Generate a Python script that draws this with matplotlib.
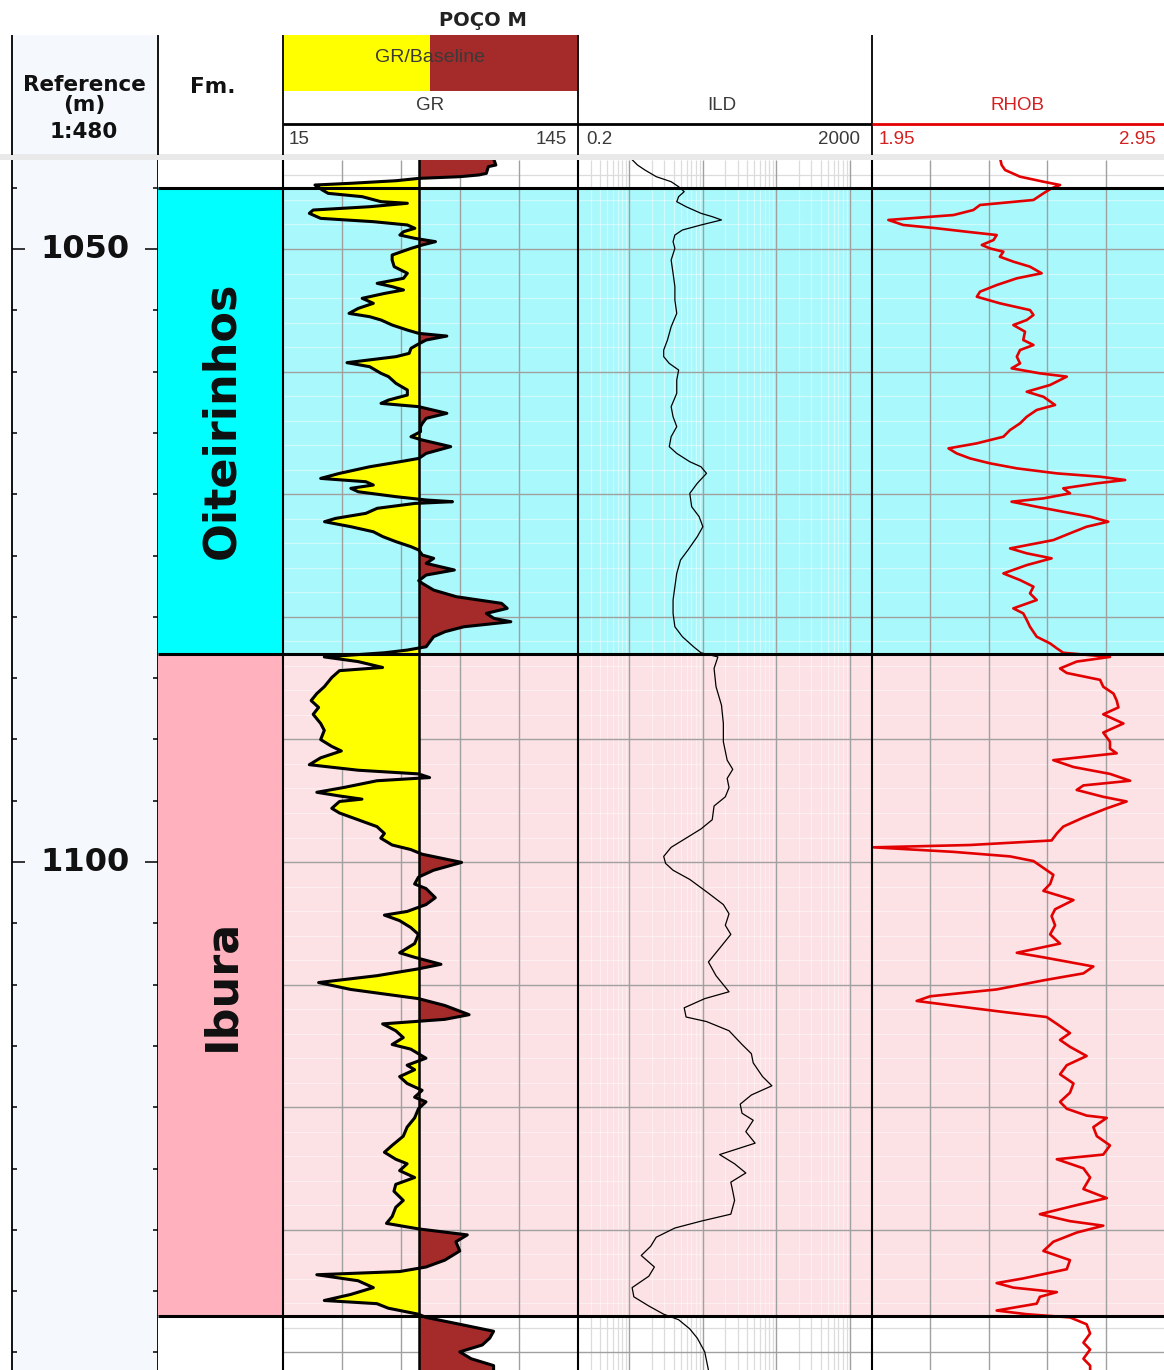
import matplotlib
matplotlib.use("Agg")
import matplotlib.pyplot as plt
import numpy as np
from matplotlib.patches import Rectangle
from matplotlib.ticker import MultipleLocator, FixedLocator

# ---------------- data ----------------
depth_top, depth_bottom = 1042.74, 1141.43
depth_major = [1050, 1100]
formations = ["Oiteirinhos", "Ibura"]
fm_tops = [1045.0, 1083.0]
fm_bases = [1083.0, 1137.0]

gr_range = (15, 145)
gr_baseline = 75
gr_grid = [41, 67, 93, 119]
ild_range = (0.2, 2000)
rhob_range = (1.95, 2.95)
rhob_grid = [2.15, 2.35, 2.55, 2.75]

gr_depth = [1042.74, 1043.15, 1043.28, 1043.83, 1043.96, 1044.10, 1044.24, 1044.43, 1044.64, 1044.78,
            1045.19, 1045.46, 1045.73, 1046.14, 1046.27, 1046.55, 1046.82, 1047.09, 1047.50, 1047.77,
            1048.04, 1048.31, 1048.59, 1048.86, 1049.13, 1049.40, 1049.67, 1049.95, 1050.49, 1050.90,
            1051.44, 1051.98, 1052.39, 1052.80, 1053.07, 1053.34, 1053.62, 1054.02, 1054.43, 1054.84,
            1055.25, 1055.52, 1055.79, 1056.20, 1056.61, 1056.88, 1057.10, 1057.42, 1057.83, 1058.10,
            1058.51, 1058.78, 1059.27, 1059.60, 1060.14, 1060.41, 1060.96, 1061.50, 1061.91, 1062.32,
            1062.59, 1062.86, 1063.40, 1063.81, 1064.22, 1064.49, 1064.90, 1065.31, 1065.58, 1066.12,
            1066.67, 1067.08, 1067.35, 1067.76, 1068.30, 1068.71, 1068.98, 1069.25, 1069.52, 1069.80,
            1070.20, 1070.47, 1070.61, 1070.75, 1071.15, 1071.56, 1071.97, 1072.24, 1072.65, 1073.06,
            1073.46, 1073.87, 1074.28, 1074.55, 1074.96, 1075.23, 1075.64, 1076.18, 1076.59, 1077.05,
            1077.27, 1077.82, 1078.36, 1078.90, 1079.31, 1079.72, 1080.13, 1080.40, 1080.81, 1081.21,
            1081.62, 1082.03, 1082.44, 1082.71, 1082.93,
            1083.27, 1083.65, 1084.13, 1084.39, 1084.95, 1085.70, 1086.26, 1086.83, 1087.39, 1087.95,
            1088.70, 1089.26, 1090.01, 1090.57, 1090.94, 1091.50, 1092.06, 1092.51, 1092.81, 1093.11,
            1093.37, 1093.93, 1094.31, 1094.61, 1094.87, 1095.06, 1095.62, 1096.00, 1096.55, 1097.11,
            1097.67, 1098.05, 1098.61, 1098.98, 1099.36, 1100.03, 1100.67, 1101.23, 1101.79, 1102.16,
            1102.91, 1103.47, 1104.03, 1104.33, 1104.78, 1105.34, 1105.90, 1106.65, 1107.40, 1107.77,
            1108.34, 1108.71, 1109.27, 1109.83, 1110.39, 1111.14, 1111.70, 1112.45, 1112.83, 1113.20,
            1113.76, 1114.32, 1114.88, 1115.26, 1116.00, 1116.57, 1116.94, 1117.50, 1118.06, 1118.62,
            1119.18, 1119.56, 1120.12, 1120.87, 1121.62, 1122.36, 1123.11, 1123.67, 1124.24, 1124.61,
            1125.17, 1125.73, 1126.29, 1126.85, 1127.60, 1128.16, 1128.91, 1129.47, 1129.92, 1130.41,
            1130.97, 1131.72, 1132.47, 1133.03, 1133.40, 1133.66, 1134.15, 1134.71, 1135.27, 1135.76,
            1136.02, 1136.39, 1136.88, 1137.14, 1137.70, 1138.27, 1138.83, 1139.39, 1139.95, 1140.51,
            1141.07, 1141.43]
gr_value = [108.0, 108.8, 105.5, 104.6, 101.3, 93.0, 74.8, 64.8, 44.9, 29.1,
            32.4, 34.9, 49.9, 58.2, 69.8, 53.2, 28.3, 26.6, 31.6, 54.8,
            69.8, 73.1, 68.1, 66.5, 73.1, 82.2, 76.4, 71.4, 63.1, 63.1,
            64.0, 69.8, 68.1, 56.5, 63.1, 68.1, 59.8, 49.9, 54.8, 48.2,
            44.1, 53.2, 58.2, 63.1, 69.8, 74.8, 87.2, 78.1, 73.9, 71.4,
            70.6, 64.8, 43.2, 53.2, 58.2, 61.5, 64.8, 69.8, 69.8, 61.5,
            58.2, 74.8, 87.2, 78.1, 76.4, 75.6, 75.6, 71.4, 76.4, 88.9,
            78.1, 74.8, 66.5, 53.2, 39.9, 31.6, 51.5, 54.8, 44.9, 48.2,
            64.8, 78.1, 89.7, 73.1, 56.5, 51.5, 38.2, 33.3, 44.9, 54.8,
            59.0, 64.8, 71.4, 74.8, 76.4, 81.4, 78.1, 90.5, 78.1, 74.8,
            76.4, 81.4, 91.4, 111.3, 113.8, 104.6, 108.0, 115.4, 94.7, 86.4,
            81.4, 79.7, 78.1, 69.8, 59.8,
            33.2, 48.1, 58.9, 39.9, 36.5, 33.2, 29.9, 27.4, 30.7, 28.3,
            31.6, 33.2, 31.6, 36.5, 40.7, 31.6, 26.6, 48.1, 74.7, 79.6,
            56.4, 41.5, 29.9, 39.9, 49.8, 39.9, 36.5, 39.9, 48.1, 56.4,
            59.7, 58.1, 63.1, 71.3, 76.3, 93.7, 81.3, 74.7, 73.0, 78.0,
            82.1, 78.0, 69.7, 59.7, 66.4, 71.3, 74.7, 73.0, 66.4, 73.0,
            84.6, 74.7, 56.4, 30.7, 44.8, 74.7, 86.3, 97.0, 86.3, 58.9,
            64.7, 68.0, 63.1, 71.3, 78.0, 69.7, 73.0, 66.4, 69.7, 76.3,
            73.0, 78.0, 74.7, 73.0, 69.7, 68.0, 63.1, 59.7, 64.7, 69.7,
            66.4, 73.0, 64.7, 63.9, 68.0, 64.7, 63.1, 60.6, 74.7, 96.2,
            91.2, 92.9, 86.3, 78.0, 66.4, 29.9, 48.1, 54.8, 44.8, 33.2,
            56.4, 61.4, 74.7, 78.0, 92.9, 107.8, 106.1, 102.8, 92.9, 97.9,
            107.8, 107.8]

ild_depth = [1042.74, 1043.15, 1043.56, 1044.10, 1044.51, 1044.92, 1045.32, 1045.73, 1046.14, 1046.55,
             1047.09, 1047.36, 1047.63, 1048.04, 1048.45, 1048.86, 1049.40, 1049.95, 1050.90, 1051.98,
             1053.07, 1054.16, 1055.25, 1056.34, 1057.42, 1058.24, 1058.78, 1059.33, 1059.87, 1060.69,
             1061.77, 1062.86, 1063.68, 1064.49, 1065.31, 1066.12, 1066.67, 1067.35, 1067.76, 1068.30,
             1069.11, 1069.93, 1071.02, 1071.83, 1072.65, 1073.46, 1074.55, 1075.37, 1076.46, 1077.54,
             1078.63, 1079.72, 1080.81, 1081.62, 1082.44, 1082.93,
             1083.27, 1084.21, 1085.70, 1087.20, 1088.70, 1090.19, 1091.69, 1092.44, 1093.18, 1093.93,
             1094.68, 1095.43, 1096.55, 1097.30, 1098.05, 1098.80, 1099.54, 1100.11, 1100.67, 1101.42,
             1102.54, 1103.47, 1104.22, 1105.16, 1105.90, 1107.03, 1108.15, 1109.27, 1110.58, 1111.14,
             1111.89, 1112.64, 1113.01, 1113.76, 1114.88, 1115.63, 1116.38, 1117.50, 1118.25, 1119.00,
             1119.75, 1120.49, 1121.06, 1121.99, 1122.93, 1123.86, 1124.61, 1125.36, 1126.11, 1126.85,
             1127.60, 1128.72, 1129.29, 1129.85, 1130.60, 1131.34, 1132.09, 1133.03, 1133.78, 1134.71,
             1135.46, 1136.21, 1136.88, 1137.33, 1138.08, 1138.83, 1139.95, 1141.43]
ild_value = [1.1, 1.29, 1.63, 2.32, 3.70, 4.68, 5.57, 4.68, 4.41, 5.91,
             9.43, 13.4, 17.9, 9.43, 5.26, 4.16, 3.93, 4.16, 3.70, 3.93,
             4.16, 4.16, 4.41, 3.70, 3.30, 2.93, 2.93, 3.49, 4.68, 4.41,
             4.41, 3.70, 3.93, 4.41, 3.70, 3.49, 4.41, 6.64, 9.43, 11.2,
             8.39, 6.64, 7.04, 8.90, 10.0, 8.39, 6.27, 4.96, 4.41, 4.16,
             3.93, 3.93, 4.16, 5.26, 7.46, 9.43,
             16.0, 14.2, 15.1, 17.9, 19.0, 19.0, 21.4, 25.5, 21.4, 22.7,
             20.2, 14.2, 13.4, 9.43, 5.91, 3.70, 2.93, 3.11, 3.93, 6.64,
             11.9, 19.0, 22.7, 20.2, 24.0, 16.9, 11.9, 15.1, 22.7, 10.6,
             5.57, 5.91, 11.2, 22.7, 34.1, 45.7, 48.4, 64.9, 86.9, 45.7,
             32.2, 34.1, 48.4, 38.4, 51.4, 16.9, 27.0, 38.4, 24.0, 25.5,
             27.0, 24.0, 9.43, 4.16, 2.32, 1.95, 1.45, 2.19, 1.84, 1.09,
             1.15, 1.84, 2.93, 4.68, 6.64, 8.39, 10.6, 11.9]

rhob_depth = [1042.74, 1043.15, 1043.56, 1044.10, 1044.51, 1044.78, 1045.05, 1045.46, 1046.00, 1046.41,
              1046.82, 1047.23, 1047.50, 1047.63, 1048.04, 1048.31, 1048.59, 1048.86, 1049.27, 1049.67,
              1049.95, 1050.22, 1050.63, 1051.03, 1051.44, 1051.98, 1052.39, 1052.94, 1053.48, 1053.89,
              1054.43, 1054.98, 1055.38, 1055.79, 1056.20, 1056.74, 1057.42, 1057.83, 1058.24, 1058.78,
              1059.33, 1059.73, 1060.14, 1060.41, 1061.09, 1061.64, 1062.05, 1062.72, 1063.13, 1063.68,
              1064.22, 1064.76, 1065.31, 1065.85, 1066.26, 1066.67, 1067.08, 1067.48, 1067.89, 1068.30,
              1068.57, 1068.84, 1069.11, 1069.52, 1069.93, 1070.34, 1070.61, 1071.02, 1071.43, 1071.83,
              1072.24, 1072.65, 1073.19, 1073.74, 1074.42, 1074.82, 1075.23, 1075.78, 1076.46, 1077.00,
              1077.54, 1078.09, 1078.63, 1079.31, 1079.72, 1080.26, 1080.81, 1081.62, 1082.17, 1082.57,
              1082.93,
              1083.27, 1083.65, 1084.21, 1084.58, 1085.14, 1085.70, 1086.26, 1086.83, 1087.39, 1087.95,
              1088.70, 1089.44, 1090.19, 1090.75, 1091.13, 1091.69, 1092.25, 1092.81, 1093.37, 1093.75,
              1094.12, 1094.68, 1095.06, 1095.62, 1096.37, 1097.11, 1097.67, 1098.24, 1098.61, 1098.80,
              1099.17, 1099.54, 1099.92, 1100.48, 1101.04, 1101.79, 1102.35, 1103.10, 1103.85, 1104.41,
              1105.16, 1105.90, 1106.65, 1107.40, 1107.77, 1108.52, 1109.08, 1109.65, 1110.39, 1110.95,
              1111.33, 1111.89, 1112.26, 1112.64, 1113.20, 1113.95, 1114.51, 1115.07, 1115.82, 1116.57,
              1117.31, 1118.06, 1118.81, 1119.56, 1120.12, 1120.68, 1120.87, 1121.62, 1122.36, 1123.11,
              1123.86, 1124.24, 1124.98, 1125.73, 1126.67, 1127.41, 1127.98, 1128.72, 1129.29, 1129.66,
              1130.22, 1130.97, 1131.72, 1132.47, 1133.21, 1133.96, 1134.34, 1134.71, 1135.08, 1135.46,
              1136.02, 1136.58, 1136.88, 1137.14, 1137.70, 1138.45, 1139.20, 1139.76, 1140.51, 1141.07,
              1141.43]
rhob_value = [2.390, 2.394, 2.406, 2.457, 2.537, 2.594, 2.565, 2.537, 2.503, 2.320,
              2.297, 2.229, 2.080, 2.006, 2.057, 2.172, 2.274, 2.377, 2.366, 2.326,
              2.354, 2.400, 2.388, 2.434, 2.491, 2.531, 2.446, 2.377, 2.320, 2.309,
              2.388, 2.491, 2.503, 2.480, 2.434, 2.474, 2.468, 2.503, 2.457, 2.446,
              2.457, 2.428, 2.525, 2.617, 2.560, 2.480, 2.537, 2.577, 2.514, 2.480,
              2.457, 2.423, 2.400, 2.309, 2.212, 2.240, 2.286, 2.354, 2.446, 2.583,
              2.731, 2.817, 2.720, 2.605, 2.628, 2.537, 2.428, 2.514, 2.605, 2.697,
              2.759, 2.685, 2.628, 2.571, 2.423, 2.480, 2.565, 2.480, 2.400, 2.457,
              2.503, 2.491, 2.514, 2.434, 2.468, 2.480, 2.491, 2.514, 2.560, 2.583,
              2.605,
              2.765, 2.651, 2.594, 2.617, 2.731, 2.742, 2.777, 2.788, 2.794, 2.742,
              2.811, 2.742, 2.765, 2.765, 2.788, 2.571, 2.640, 2.765, 2.834, 2.674,
              2.651, 2.742, 2.822, 2.754, 2.674, 2.605, 2.583, 2.565, 2.286, 1.955,
              2.229, 2.423, 2.503, 2.537, 2.571, 2.560, 2.537, 2.640, 2.577, 2.565,
              2.577, 2.560, 2.594, 2.446, 2.537, 2.708, 2.674, 2.537, 2.377, 2.149,
              2.103, 2.286, 2.411, 2.548, 2.583, 2.628, 2.594, 2.628, 2.685, 2.617,
              2.594, 2.640, 2.628, 2.594, 2.617, 2.685, 2.754, 2.708, 2.720, 2.765,
              2.742, 2.583, 2.674, 2.697, 2.674, 2.754, 2.651, 2.525, 2.628, 2.742,
              2.651, 2.571, 2.537, 2.628, 2.617, 2.468, 2.377, 2.434, 2.583, 2.525,
              2.514, 2.377, 2.480, 2.628, 2.685, 2.697, 2.674, 2.697, 2.674, 2.697,
              2.697]

# ---------------- style ----------------
plt.rcParams['font.family'] = ['DejaVu Sans']
CYAN_FM, PINK_FM = '#00FFFF', '#FFB1BE'
CYAN_BG, PINK_BG = '#A9F8FC', '#FCE1E5'
DEPTH_BG = '#F5F8FD'
YELLOW, BROWN = '#FFFF00', '#A52A2A'
GRID_MAJOR = '#A0A0A0'
RED = '#E30000'
HEADER_FONT = 'Liberation Sans'

W, H = 1164, 1370
BODY_TOP, BODY_BOT = 160, 1370
fig = plt.figure(figsize=(W / 100, H / 100), dpi=100)

zones = [(depth_top, fm_tops[0], 'white', 'white'),
         (fm_tops[0], fm_bases[0], CYAN_BG, CYAN_FM),
         (fm_tops[1], fm_bases[1], PINK_BG, PINK_FM),
         (fm_bases[1], depth_bottom, 'white', 'white')]


def body_axes(x0, x1):
    ax = fig.add_axes([x0 / W, 1 - BODY_BOT / H, (x1 - x0) / W, (BODY_BOT - BODY_TOP) / H])
    ax.set_ylim(depth_bottom, depth_top)
    ax.set_xticks([])
    ax.set_yticks([])
    for s in ax.spines.values():
        s.set_visible(False)
    return ax


def draw_grid(ax, xmin, xmax, major_x, minor_x=()):
    ax.set_xlim(xmin, xmax)
    for top, bot, bg, _ in zones:
        ax.axhspan(top, bot, color=bg, zorder=0, lw=0)
        mcol = '#DCDCDC' if bg == 'white' else (1, 1, 1, 0.45)
        dm = [d for d in np.arange(1040, 1146, 2) if top < d < bot and d % 10 != 0]
        ax.hlines(dm, xmin, xmax, colors=[mcol], lw=0.9, zorder=1)
        if len(minor_x):
            ax.vlines(minor_x, top, bot, colors=[mcol], lw=0.9, zorder=1)
    ax.vlines(major_x, depth_top, depth_bottom, colors=GRID_MAJOR, lw=1.0, zorder=1.5)
    dM = [d for d in np.arange(1040, 1150, 10) if depth_top < d < depth_bottom]
    ax.hlines(dM, xmin, xmax, colors=GRID_MAJOR, lw=1.0, zorder=1.5)


def left_border(ax):
    ax.spines['left'].set_visible(True)
    ax.spines['left'].set_linewidth(1.5)
    ax.spines['left'].set_color('black')
    ax.spines['left'].set_zorder(7)


def fm_lines(ax, xmin, xmax):
    ax.hlines([fm_tops[0], fm_tops[1], fm_bases[1]], xmin, xmax, colors='black', lw=2.2, zorder=6)


# ---------------- depth track ----------------
axd = body_axes(12, 158)
axd.axhspan(depth_top, depth_bottom, color=DEPTH_BG, lw=0, zorder=0)
for side in ('left', 'right'):
    axd.spines[side].set_visible(True)
    axd.spines[side].set_linewidth(1.3)
axd.yaxis.set_major_locator(FixedLocator(depth_major))
axd.yaxis.set_minor_locator(MultipleLocator(5))
axd.tick_params(axis='y', which='both', direction='in', left=True, right=True,
                labelleft=False, labelright=False, width=1.1)
axd.tick_params(axis='y', which='major', length=9.5)
axd.tick_params(axis='y', which='minor', length=3.8)
for d in depth_major:
    axd.text(0.5, d, f"{d}", transform=axd.get_yaxis_transform(), ha='center', va='center',
             fontsize=23, fontweight='bold', color='#111111')

# ---------------- formation track ----------------
axf = body_axes(158, 283)
axf.set_xlim(0, 1)
for name, top, base, (_, _, _, col) in zip(formations, fm_tops, fm_bases, zones[1:3]):
    axf.axhspan(top, base, color=col, lw=0, zorder=0)
    axf.text(0.51, (top + base) / 2, name, rotation=90, ha='center', va='center',
             fontsize=32, fontweight='bold', color='#101010')
fm_lines(axf, 0, 1)

# ---------------- GR track ----------------
axg = body_axes(283, 578)
draw_grid(axg, gr_range[0], gr_range[1], gr_grid)
gd = np.array(gr_depth)
gv = np.array(gr_value)
axg.fill_betweenx(gd, gv, gr_baseline, where=gv <= gr_baseline, interpolate=True,
                  color=YELLOW, lw=0, zorder=2)
axg.fill_betweenx(gd, gv, gr_baseline, where=gv >= gr_baseline, interpolate=True,
                  color=BROWN, lw=0, zorder=2)
axg.axvline(gr_baseline, color='black', lw=1.8, zorder=3)
axg.plot(gv, gd, color='black', lw=2.2, zorder=4)
left_border(axg)
fm_lines(axg, *gr_range)

# ---------------- ILD track ----------------
axi = body_axes(578, 872)
axi.set_xscale('log')
axi.set_xticks([])
axi.set_xticks([], minor=True)
ild_major = [1, 10, 100, 1000]
ild_minor = [k * 10.0 ** e for e in range(-1, 4) for k in range(2, 10)
             if ild_range[0] < k * 10.0 ** e < ild_range[1]]
draw_grid(axi, ild_range[0], ild_range[1], ild_major, ild_minor)
axi.plot(ild_value, ild_depth, color='black', lw=0.9, zorder=4)
left_border(axi)
fm_lines(axi, *ild_range)

# ---------------- RHOB track ----------------
axr = body_axes(872, 1164)
draw_grid(axr, rhob_range[0], rhob_range[1], rhob_grid)
axr.plot(rhob_value, rhob_depth, color=RED, lw=1.9, zorder=4)
left_border(axr)
fm_lines(axr, *rhob_range)

# ---------------- header ----------------
hax = fig.add_axes([0, 1 - BODY_TOP / H, 1, BODY_TOP / H])
hax.set_xlim(0, W)
hax.set_ylim(BODY_TOP, 0)
hax.axis('off')
hax.add_patch(Rectangle((0, 154), W, 6, color='#E9E9E9', lw=0))
hax.add_patch(Rectangle((12, 35), 146, 119, color=DEPTH_BG, lw=0))
hax.add_patch(Rectangle((284, 35), 146, 56, color=YELLOW, lw=0))
hax.add_patch(Rectangle((430, 35), 147, 56, color=BROWN, lw=0))
hax.vlines([12, 158, 283, 578, 872], 35, 155, colors='black', lw=1.3)
hax.hlines(124, 283, 872, colors='black', lw=2.0)
hax.hlines(124, 872, W, colors=RED, lw=2.0)

hax.text(483, 20, "POÇO M", ha='center', va='center', fontsize=14, fontweight='bold', color='#222222')
for txt, y in (("Reference", 85), ("(m)", 105), ("1:480", 132)):
    hax.text(84, y, txt, ha='center', va='center', fontsize=15.5, fontweight='bold', color='#111111')
hax.text(213, 87, "Fm.", ha='center', va='center', fontsize=15.5, fontweight='bold', color='#111111')

hkw = dict(va='center', fontsize=13.5, family=HEADER_FONT)
hax.text(430, 57, "GR/Baseline", ha='center', color='#3A3A3A', fontsize=14, va='center', family=HEADER_FONT)
hax.text(430, 106, "GR", ha='center', color='#3A3A3A', **hkw)
hax.text(722, 106, "ILD", ha='center', color='#3A3A3A', **hkw)
hax.text(1017, 106, "RHOB", ha='center', color='#D42020', **hkw)
hax.text(289, 139, f"{gr_range[0]}", ha='left', color='#3A3A3A', **hkw)
hax.text(567, 139, f"{gr_range[1]}", ha='right', color='#3A3A3A', **hkw)
hax.text(586, 139, f"{ild_range[0]}", ha='left', color='#3A3A3A', **hkw)
hax.text(860, 139, f"{ild_range[1]}", ha='right', color='#3A3A3A', **hkw)
hax.text(879, 139, f"{rhob_range[0]:.2f}", ha='left', color='#D42020', **hkw)
hax.text(1156, 139, f"{rhob_range[1]:.2f}", ha='right', color='#D42020', **hkw)

fig.savefig("out.png", dpi=100)
